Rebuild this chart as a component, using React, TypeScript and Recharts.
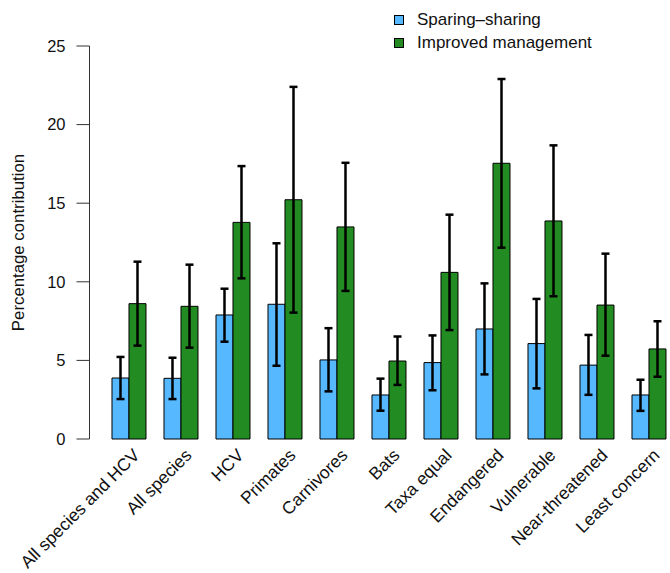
import { Bar, BarChart, ErrorBar, Legend, XAxis, YAxis } from 'recharts';

const categories = [
  'All species and HCV',
  'All species',
  'HCV',
  'Primates',
  'Carnivores',
  'Bats',
  'Taxa equal',
  'Endangered',
  'Vulnerable',
  'Near-threatened',
  'Least concern'
];

const sparing = [3.88, 3.86, 7.89, 8.57, 5.03, 2.8, 4.86, 7.0, 6.07, 4.7, 2.8];
const sparingLow = [2.54, 2.54, 6.19, 4.66, 3.03, 1.8, 3.1, 4.11, 3.22, 2.81, 1.79];
const sparingHigh = [5.22, 5.17, 9.56, 12.45, 7.05, 3.84, 6.59, 9.9, 8.91, 6.62, 3.77];

const improved = [8.61, 8.44, 13.78, 15.22, 13.49, 4.96, 10.6, 17.54, 13.87, 8.52, 5.73];
const improvedLow = [5.94, 5.81, 10.22, 8.04, 9.42, 3.44, 6.93, 12.17, 9.08, 5.3, 3.96];
const improvedHigh = [11.28, 11.09, 17.36, 22.4, 17.57, 6.52, 14.27, 22.9, 18.68, 11.79, 7.49];

const yTicks = [0, 5, 10, 15, 20, 25];

const data = categories.map((name, i) => ({
  name,
  sparing: sparing[i],
  sparingErr: [sparing[i] - sparingLow[i], sparingHigh[i] - sparing[i]],
  improved: improved[i],
  improvedErr: [improved[i] - improvedLow[i], improvedHigh[i] - improved[i]]
}));

const FONT = '"Liberation Sans", Arial, Helvetica, sans-serif';
const BLUE = '#56B8FF';
const GREEN = '#228B22';

function CategoryTick({ x, y, payload }: any) {
  return (
    <g transform={`translate(${x + 7},${y + 13})`}>
      <text
        textAnchor='end'
        transform='rotate(-45)'
        dy='0.35em'
        fontSize={17.5}
        fontFamily={FONT}
        fill='#111'
      >
        {payload.value}
      </text>
    </g>
  );
}

function YLabel({ viewBox }: any) {
  const cy = viewBox.y + viewBox.height / 2;
  return (
    <text
      x={24}
      y={cy}
      transform={`rotate(-90, 24, ${cy})`}
      textAnchor='middle'
      fontSize={16.8}
      fontFamily={FONT}
      fill='#111'
    >
      Percentage contribution
    </text>
  );
}

function LegendBox() {
  const items = [
    { label: 'Sparing\u2013sharing', color: BLUE },
    { label: 'Improved management', color: GREEN }
  ];
  return (
    <div style={{ fontFamily: FONT, fontSize: 17, color: '#111' }}>
      {items.map(item => (
        <div
          key={item.label}
          style={{ display: 'flex', alignItems: 'center', height: 23, lineHeight: '23px' }}
        >
          <span
            style={{
              display: 'inline-block',
              width: 8,
              height: 8,
              background: item.color,
              border: '1px solid #000',
              marginRight: 13
            }}
          />
          <span>{item.label}</span>
        </div>
      ))}
    </div>
  );
}

export default function App() {
  return (
    <div
      style={{
        position: 'absolute',
        left: 0,
        top: 0,
        width: 670,
        height: 573,
        overflow: 'hidden',
        background: '#fff'
      }}
    >
      <BarChart
        width={680}
        height={573}
        data={data}
        margin={{ top: 46, right: 4.67, bottom: 0, left: 0 }}
        barGap={0}
        barCategoryGap='16.667%'
      >
        <XAxis
          dataKey='name'
          height={134}
          axisLine={false}
          tickLine={false}
          tickSize={0}
          tickMargin={0}
          interval={0}
          padding={{ left: 13.83, right: 0 }}
          tick={<CategoryTick />}
        />
        <YAxis
          width={89.5}
          domain={[0, 25]}
          ticks={yTicks}
          tickSize={13}
          tickMargin={11}
          axisLine={{ stroke: '#333' }}
          tickLine={{ stroke: '#333' }}
          tick={{ fontSize: 16.5, fontFamily: FONT, fill: '#111' }}
          label={<YLabel />}
        />
        <Legend
          content={<LegendBox />}
          layout='horizontal'
          verticalAlign='middle'
          align='center'
          wrapperStyle={{ top: 8, left: 394, width: 270 }}
        />
        <Bar dataKey='sparing' fill={BLUE} stroke='#000' strokeWidth={1} isAnimationActive={false}>
          <ErrorBar dataKey='sparingErr' width={4} strokeWidth={2.5} stroke='#000' />
        </Bar>
        <Bar dataKey='improved' fill={GREEN} stroke='#000' strokeWidth={1} isAnimationActive={false}>
          <ErrorBar dataKey='improvedErr' width={4} strokeWidth={2.5} stroke='#000' />
        </Bar>
      </BarChart>
    </div>
  );
}
